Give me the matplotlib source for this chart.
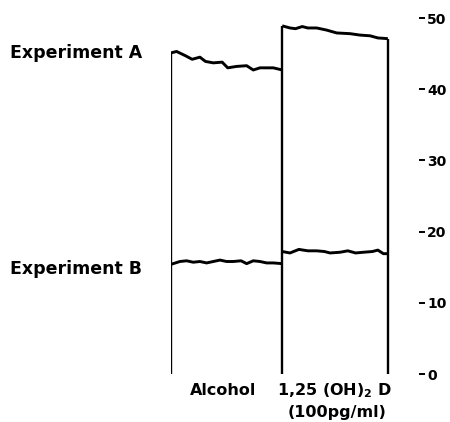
import matplotlib
matplotlib.use("Agg")
import matplotlib.pyplot as plt

# time axis (arbitrary units, treatment switch at t=10)
t_left = [0.0, 0.5, 1.3, 1.9, 2.6, 3.1, 3.8, 4.6, 5.1, 5.9, 6.8, 7.4, 8.0, 8.6, 9.2, 10.0]
t_right = [10.0, 10.7, 11.2, 11.8, 12.3, 13.1, 14.0, 14.9, 16.1, 17.0, 17.9, 18.6, 19.5]
t_left_b = [0.0, 0.8, 1.4, 2.0, 2.6, 3.2, 3.8, 4.4, 5.0, 5.6, 6.3, 6.8, 7.4, 8.0, 8.6, 9.2, 10.0]
t_right_b = [10.0, 10.7, 11.5, 12.3, 13.1, 13.8, 14.3, 15.2, 15.9, 16.6, 17.3, 18.1, 18.6, 19.1, 19.5]

# Experiment A trace
exp_a_alcohol = [45.1, 45.3, 44.7, 44.2, 44.5, 43.9, 43.7, 43.8, 43.0, 43.2, 43.3, 42.7, 43.0, 43.0, 43.0, 42.7]
exp_a_vitd = [48.9, 48.6, 48.5, 48.8, 48.6, 48.6, 48.3, 47.9, 47.8, 47.6, 47.5, 47.2, 47.1]

# Experiment B trace
exp_b_alcohol = [15.4, 15.8, 15.9, 15.7, 15.8, 15.6, 15.8, 16.0, 15.8, 15.8, 15.9, 15.5, 15.9, 15.8, 15.6, 15.6, 15.5]
exp_b_vitd = [17.2, 17.0, 17.5, 17.3, 17.3, 17.2, 17.0, 17.1, 17.3, 17.0, 17.1, 17.2, 17.4, 16.9, 16.9]

yticks = [0, 10, 20, 30, 40, 50]

fig = plt.figure(figsize=(4.5, 4.22), dpi=100)
ax = fig.add_axes([171 / 450, 48 / 422, (419 - 171) / 450, 356 / 422])

ax.plot(t_left, exp_a_alcohol, color="black", lw=2.1, solid_capstyle="butt")
ax.plot(t_right, exp_a_vitd, color="black", lw=2.1, solid_capstyle="butt")
ax.plot(t_left_b, exp_b_alcohol, color="black", lw=2.1, solid_capstyle="butt")
ax.plot(t_right_b, exp_b_vitd, color="black", lw=2.1, solid_capstyle="butt")

# chart recorder boundaries
ax.vlines([t_left[0], t_right[0], t_right[-1]], 0,
          [exp_a_alcohol[0], exp_a_vitd[0], exp_a_vitd[-1]], color="black", lw=1.7)

ax.set_xlim(0, 22.3)
ax.set_ylim(0, 50)
for s in ax.spines.values():
    s.set_visible(False)
ax.set_xticks([])
ax.yaxis.tick_right()
ax.set_yticks(yticks)
ax.tick_params(axis="y", direction="out", length=4.3, width=1.4, pad=1.5, labelsize=10)
for lab in ax.get_yticklabels():
    lab.set_fontweight("bold")

fig.text(10 / 450, 1 - 53 / 422, "Experiment A", fontsize=12.5, fontweight="bold", va="center", ha="left")
fig.text(10 / 450, 1 - 269 / 422, "Experiment B", fontsize=12.5, fontweight="bold", va="center", ha="left")

ax.text(4.7, -2.3, "Alcohol", fontsize=11.5, fontweight="bold", ha="center", va="center")
ax.text(14.7, -2.3, r"1,25 (OH)$_\mathbf{2}$ D", fontsize=11.5, fontweight="bold", ha="center", va="center")
ax.text(14.9, -5.4, "(100pg/ml)", fontsize=11.5, fontweight="bold", ha="center", va="center")

fig.savefig("out.png", dpi=100)
